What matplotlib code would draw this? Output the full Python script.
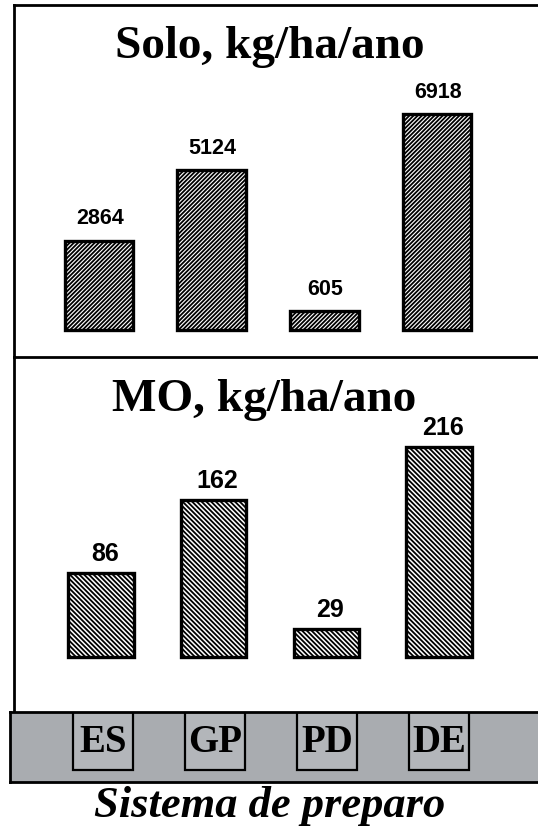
import matplotlib
matplotlib.use("Agg")
import matplotlib.pyplot as plt

# dados
sistemas = ["ES", "GP", "PD", "DE"]
solo = [2864, 5124, 605, 6918]
mo = [86, 162, 29, 216]

W, H = 538, 836
SERIF = "Liberation Serif"
SANS = "Liberation Sans"


def rect(l, t, r, b):
    # pixel box (topo para baixo) -> fracao da figura
    return [l / W, 1 - b / H, (r - l) / W, (b - t) / H]


def xlim_px(l, r, x0, ppu):
    return ((l - x0) / ppu, (r - x0) / ppu)


def ylim_px(t, b, base, ppu):
    return ((base - b) / ppu, (base - t) / ppu)


fig = plt.figure(figsize=(W / 100, H / 100), dpi=100)
plt.rcParams["hatch.linewidth"] = 1.3

x = list(range(len(sistemas)))
X0, XPPU = 99.0, 112.67

# painel superior: solo
ax1 = fig.add_axes(rect(14, 5, 580, 357))
ax1.set_xlim(*xlim_px(14, 580, X0, XPPU))
ax1.set_ylim(*ylim_px(5, 357, 330, 0.03122))
ax1.bar(x, solo, width=0.61, color="white", edgecolor="black", linewidth=2.4,
        hatch="////////")
for i, v in zip(x, solo):
    ax1.annotate(str(v), (i, v), xytext=(1, 22), textcoords="offset pixels",
                 ha="center", va="center", fontsize=15.5, family=SANS,
                 weight="bold")

# painel inferior: materia organica
ax2 = fig.add_axes(rect(14, 357, 580, 711))
ax2.set_xlim(*xlim_px(14, 580, X0 + 2, XPPU))
ax2.set_ylim(*ylim_px(357, 711, 657, 0.972))
ax2.bar(x, mo, width=0.58, color="white", edgecolor="black", linewidth=2.4,
        hatch="\\\\\\\\\\\\\\")
for i, v in zip(x, mo):
    ax2.annotate(str(v), (i, v), xytext=(4, 19), textcoords="offset pixels",
                 ha="center", va="center", fontsize=18, family=SANS,
                 weight="bold")

for ax in (ax1, ax2):
    ax.set_xticks([]); ax.set_yticks([])
    for s in ax.spines.values():
        s.set_linewidth(2.0)
    ax.spines["right"].set_visible(False)
    ax.patch.set_alpha(0)
ax2.spines["top"].set_visible(False)
ax2.spines["bottom"].set_visible(False)

fig.text(270 / W, 1 - 47 / H, "Solo, kg/ha/ano", ha="center", va="center",
         fontsize=34, family=SERIF, weight="bold")
fig.text(264 / W, 1 - 400 / H, "MO, kg/ha/ano", ha="center", va="center",
         fontsize=34, family=SERIF, weight="bold")

# faixa cinza com os sistemas de preparo
ax3 = fig.add_axes(rect(10, 712, 580, 782))
ax3.set_facecolor("#a9acb0")
ax3.set_xlim(*xlim_px(10, 580, 103, 112))
ax3.set_ylim(0, 1)
ax3.bar(x, [0.83] * len(x), bottom=0.17, width=0.54, color="#b3b6ba",
        edgecolor="black", linewidth=1.6)
for i, s in zip(x, sistemas):
    ax3.text(i, 0.56, s, ha="center", va="center", fontsize=28, family=SERIF,
             weight="bold")
ax3.set_xticks([]); ax3.set_yticks([])
for s in ax3.spines.values():
    s.set_linewidth(2.0)

fig.text(270 / W, 1 - 806 / H, "Sistema de preparo", ha="center",
         va="center", fontsize=32, family=SERIF, weight="bold", style="italic")

fig.savefig("out.png", dpi=100)
